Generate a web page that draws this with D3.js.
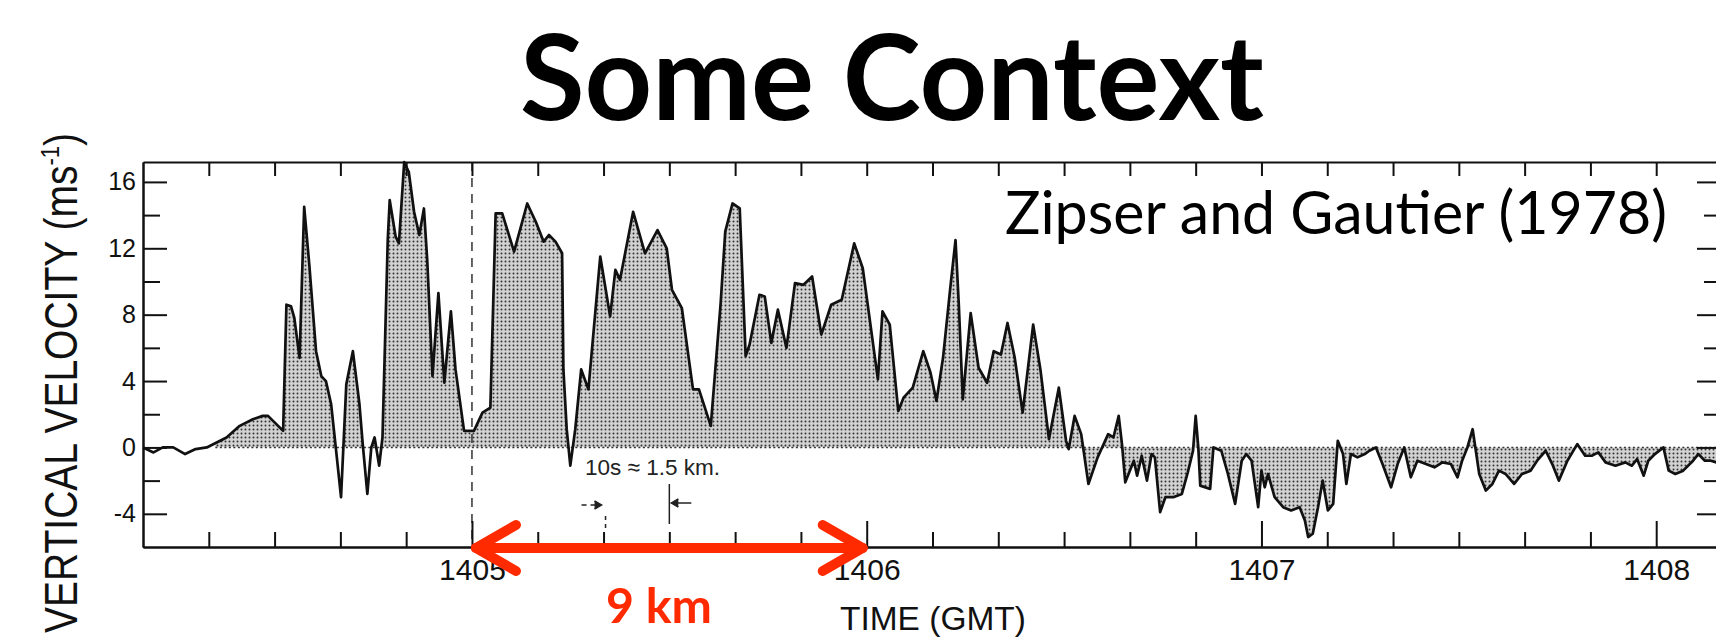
<!DOCTYPE html>
<html>
<head>
<meta charset="utf-8">
<title>Some Context</title>
<script src="https://d3js.org/d3.v7.min.js"></script>
<style>
  body { margin: 0; background: #fff; }
  svg { display: block; }
</style>
</head>
<body>
<script>
// trace: seconds after 14:04:00 and vertical velocity (m/s)
var times = [10.0, 11.6, 13.0, 14.6, 16.4, 18.0, 19.7, 22.7, 24.7, 26.7, 28.2, 29.0, 31.3, 31.8, 32.5, 33.0, 33.8,
  34.5, 35.3, 36.3, 37.1, 37.8, 38.6, 39.3, 40.1, 40.9, 41.9, 42.9, 43.4, 44.1, 44.7, 45.2, 45.9, 46.4, 47.2,
  47.5, 48.4, 48.9, 49.7, 50.4, 51.2, 52.0, 52.7, 53.2, 54.0, 54.9, 55.8, 56.8, 57.5, 58.8, 60.3, 61.6, 62.8,
  63.6, 64.6, 66.4, 68.4, 69.7, 70.9, 71.7, 72.7, 73.7, 73.9, 74.4, 74.95, 75.7, 76.6, 77.7, 79.5, 81.0, 81.8,
  82.5, 84.5, 86.3, 88.2, 89.6, 90.4, 91.9, 93.6, 94.5, 96.3, 97.8, 98.5, 99.6, 100.7, 101.6, 102.2, 103.7,
  104.5, 105.5, 106.5, 107.8, 109.1, 110.4, 111.7, 113.1, 114.6, 116.2, 118.1, 119.4, 121.7, 122.4, 123.5,
  124.8, 125.6, 127.0, 128.6, 129.7, 130.6, 131.6, 132.7, 133.5, 134.0, 134.6, 135.8, 137.0, 138.3, 139.3,
  140.4, 141.4, 142.5, 143.7, 145.3, 146.4, 147.7, 149.2, 150.3, 150.7, 151.6, 152.6, 153.7, 155.1, 156.7,
  157.5, 158.3, 158.8, 159.3, 160.6, 161.1, 161.8, 162.6, 163.3, 163.8, 164.6, 165.4, 166.6, 167.9, 168.8,
  169.6, 170.0, 170.4, 170.7, 172.2, 172.7, 173.9, 174.9, 176.0, 177.0, 177.7, 178.5, 179.5, 180.0, 180.5,
  181.0, 182.0, 183.3, 184.5, 185.8, 186.6, 187.1, 187.8, 188.6, 189.3, 190.1, 190.9, 191.6, 192.4, 192.9,
  193.6, 194.6, 195.7, 196.4, 197.4, 198.4, 199.7, 200.7, 201.7, 202.7, 203.7, 205.0, 206.3, 207.5, 208.8,
  209.8, 210.5, 211.3, 212.1, 213.1, 214.1, 215.1, 216.1, 217.1, 218.4, 219.6, 220.9, 221.9, 223.2, 224.2,
  225.2, 226.5, 228.0, 229.2, 230.2, 231.2, 232.3, 233.8, 235.3, 236.3, 237.1, 238.1, 238.8, 239.8, 241.1,
  241.9, 242.9, 244.1, 245.6, 246.4, 247.4, 248.3, 250.0];
var velocity = [0.0, -0.3, 0.0, 0.0, -0.4, -0.1, 0.0, 0.6, 1.3, 1.7, 1.9, 1.9, 1.0, 8.6, 8.5, 7.8, 5.4,
  14.5, 10.9, 5.8, 4.3, 4.0, 2.6, 0.0, -3.0, 3.8, 5.8, 2.6, 0.2, -2.8, 0.0, 0.6, -1.1, 0.6, 12.5,
  14.9, 12.7, 12.3, 17.2, 16.6, 14.2, 12.8, 14.4, 11.3, 4.3, 9.3, 3.9, 8.2, 4.7, 1.0, 1.0, 2.1, 2.4,
  14.1, 14.1, 11.8, 14.7, 13.6, 12.4, 12.8, 12.4, 11.7, 4.7, 1.1, -1.1, 1.1, 4.7, 3.5, 11.5, 7.9, 10.7,
  10.1, 14.2, 11.7, 13.1, 12.0, 9.5, 8.4, 3.5, 3.5, 1.3, 8.7, 13.0, 14.7, 14.4, 5.5, 6.2, 9.2,
  9.1, 6.3, 8.3, 6.0, 9.9, 9.8, 10.3, 6.8, 8.6, 8.9, 12.3, 10.8, 4.1, 8.2, 7.4,
  2.2, 3.0, 3.6, 5.8, 4.5, 2.8, 5.4, 9.6, 12.5, 8.6, 2.9, 8.1, 4.8, 3.9, 5.8,
  5.6, 7.5, 5.4, 2.1, 7.4, 4.7, 0.5, 3.6, 0.4, -0.1, 1.9, 0.8, -2.2, -0.6, 0.8,
  0.6, 1.9, 0.2, -2.1, -0.8, -1.7, -0.5, -2.0, -0.4, -0.6, -3.9, -3.0, -3.0, -2.8, -1.5,
  -0.2, 1.9, 0.0, -2.3, -2.5, 0.0, -0.2, -1.6, -3.4, -0.8, -0.4, -0.8, -3.6, -1.4, -2.4,
  -1.6, -3.0, -3.6, -3.8, -3.6, -4.4, -5.4, -5.2, -3.6, -2.0, -3.8, -3.4, 0.4, -0.4, -2.2,
  -0.4, -0.6, -0.4, -0.2, 0.0, -1.0, -2.4, -1.0, 0.0, -1.8, -0.8, -1.0, -1.2, -0.9, -1.0,
  -1.8, -0.8, 0.0, 1.1, -1.6, -2.6, -2.2, -1.4, -1.6, -2.2, -1.6, -1.4, -0.8, -0.2, -1.0,
  -2.0, -0.8, 0.2, -0.5, -0.5, -0.3, -0.9, -1.1, -0.9, -1.1, -0.7, -1.7, -0.8, -0.4, 0.0,
  -1.4, -1.6, -1.4, -0.8, -0.4, -0.8, -0.8, -1.0];

// axis ticks
var yMajor = [-4, 0, 4, 8, 12, 16],
  yMinor = [-2, 2, 6, 10, 14],
  minuteTicks = [60, 120, 180, 240],
  minuteLabels = ["1405", "1406", "1407", "1408"],
  tenSecTicks = d3.range(20, 250, 10);

var width = 1716, height = 641,
  red = "#ff2a00";

var svg = d3.select("body").append("svg")
  .attr("width", width)
  .attr("height", height);

var x = d3.scaleLinear().domain([10, 250]).range([143, 1722]),
  y = d3.scaleLinear().domain([-6, 17.2]).range([547, 162]);

var data = times.map(function(t, i) { return { t: t, v: velocity[i] }; });

// stipple pattern for the shaded areas
var defs = svg.append("defs");
var pat = defs.append("pattern")
  .attr("id", "stipple")
  .attr("patternUnits", "userSpaceOnUse")
  .attr("width", 4).attr("height", 4);
pat.append("rect").attr("width", 4).attr("height", 4).attr("fill", "#d2d2d2");
pat.append("circle").attr("cx", 1.5).attr("cy", 1.5).attr("r", 1).attr("fill", "#333");

// updrafts are shaded from 1404:21, downdrafts only after ~1406:30
defs.append("clipPath").attr("id", "clipUp")
  .append("rect")
  .attr("x", x(21)).attr("y", y(17.2))
  .attr("width", x(250) - x(21)).attr("height", y(0) - y(17.2));
defs.append("clipPath").attr("id", "clipDown")
  .append("rect")
  .attr("x", x(150)).attr("y", y(0))
  .attr("width", x(250) - x(150)).attr("height", y(-6) - y(0));

var area = d3.area()
  .x(function(d) { return x(d.t); })
  .y0(y(0))
  .y1(function(d) { return y(d.v); });

["clipUp", "clipDown"].forEach(function(id) {
  svg.append("path")
    .datum(data)
    .attr("clip-path", "url(#" + id + ")")
    .attr("fill", "url(#stipple)")
    .attr("d", area);
});

// dotted zero line
svg.append("line")
  .attr("x1", x(21)).attr("x2", x(250))
  .attr("y1", y(0)).attr("y2", y(0))
  .attr("stroke", "#333")
  .attr("stroke-width", 1.6)
  .attr("stroke-dasharray", "2,2.5");

// dashed marker at 1405
svg.append("line")
  .attr("x1", x(60)).attr("x2", x(60))
  .attr("y1", y(17.2)).attr("y2", y(-6))
  .attr("stroke", "#333")
  .attr("stroke-width", 1.5)
  .attr("stroke-dasharray", "9,7");

// the trace
var line = d3.line()
  .x(function(d) { return x(d.t); })
  .y(function(d) { return y(d.v); });

svg.append("path")
  .datum(data)
  .attr("fill", "none")
  .attr("stroke", "#111")
  .attr("stroke-width", 2.7)
  .attr("stroke-linejoin", "round")
  .attr("d", line);

// axes (ticks point inwards like the original)
function styleAxis(g) {
  g.selectAll("path, line").attr("stroke", "#111").attr("stroke-width", 2);
  g.selectAll("text").attr("fill", "#111").attr("font-family", "Liberation Sans, Arial, sans-serif");
}

svg.append("g")
  .attr("transform", "translate(" + x(10) + ",0)")
  .call(d3.axisLeft(y).tickValues(yMajor).tickSize(-24).tickSizeOuter(0).tickPadding(7)
    .tickFormat(function(d) { return d < 0 ? "-" + Math.abs(d) : d; }))
  .call(styleAxis)
  .call(function(g) { g.selectAll("text").attr("font-size", 25); });

svg.append("g")
  .attr("transform", "translate(" + x(10) + ",0)")
  .call(d3.axisLeft(y).tickValues(yMinor).tickSize(-17).tickSizeOuter(0).tickFormat(""))
  .call(styleAxis);

svg.append("g")
  .attr("transform", "translate(" + x(250) + ",0)")
  .call(d3.axisRight(y).tickValues(yMajor).tickSize(-25).tickSizeOuter(0).tickFormat(""))
  .call(styleAxis);

svg.append("g")
  .attr("transform", "translate(" + x(250) + ",0)")
  .call(d3.axisRight(y).tickValues(yMinor).tickSize(-18).tickSizeOuter(0).tickFormat(""))
  .call(styleAxis);

svg.append("g")
  .attr("transform", "translate(0," + y(17.2) + ")")
  .call(d3.axisTop(x).tickValues(tenSecTicks).tickSize(-14).tickSizeOuter(0).tickFormat(""))
  .call(styleAxis);

svg.append("g")
  .attr("transform", "translate(0," + y(-6) + ")")
  .call(d3.axisBottom(x).tickValues(tenSecTicks.filter(function(t) { return t % 60; }))
    .tickSize(-15).tickSizeOuter(0).tickFormat(""))
  .call(styleAxis);

svg.append("g")
  .attr("transform", "translate(0," + y(-6) + ")")
  .call(d3.axisBottom(x).tickValues(minuteTicks).tickSize(-26).tickSizeOuter(0).tickPadding(12)
    .tickFormat(function(d, i) { return minuteLabels[i]; }))
  .call(styleAxis)
  .call(function(g) { g.selectAll("text").attr("font-size", 30); });

// helper: scale the font so the text spans a given width
function fitWidth(sel, w) {
  var fs = parseFloat(sel.attr("font-size")),
    len = sel.node().getComputedTextLength();
  sel.attr("font-size", fs * w / len);
  return sel;
}

// axis titles
var yTitle = svg.append("text")
  .attr("transform", "translate(77,383) rotate(-90)")
  .attr("text-anchor", "middle")
  .attr("font-family", "Liberation Sans, Arial, sans-serif")
  .attr("font-size", 46)
  .attr("fill", "#111")
  .attr("textLength", 500)
  .attr("lengthAdjust", "spacingAndGlyphs");
yTitle.append("tspan").text("VERTICAL VELOCITY (ms");
yTitle.append("tspan").attr("font-size", 26).attr("dy", -18).text("-1");
yTitle.append("tspan").attr("dy", 18).text(")");

fitWidth(svg.append("text")
  .attr("x", 840).attr("y", 630)
  .attr("font-family", "Liberation Sans, Arial, sans-serif")
  .attr("font-size", 32)
  .attr("fill", "#111")
  .text("TIME (GMT)"), 186);

fitWidth(svg.append("text")
  .attr("x", 585).attr("y", 475)
  .attr("font-family", "Liberation Sans, Arial, sans-serif")
  .attr("font-size", 22)
  .attr("fill", "#222")
  .text("10s \u2248 1.5 km."), 135);

// 10 s scale marker
var mk = svg.append("g").attr("stroke", "#222").attr("stroke-width", 1.5).attr("fill", "none");
mk.append("line").attr("x1", x(80) - 22).attr("x2", x(80) - 4).attr("y1", 505).attr("y2", 505)
  .attr("stroke-dasharray", "5,4");
mk.append("path").attr("d", "M" + (x(80) - 9) + ",501L" + (x(80) - 2) + ",505L" + (x(80) - 9) + ",509")
  .attr("fill", "#222");
mk.append("line").attr("x1", x(80) + 2).attr("x2", x(80) + 2).attr("y1", 516).attr("y2", 532)
  .attr("stroke-dasharray", "4,4");
mk.append("line").attr("x1", x(90)).attr("x2", x(90)).attr("y1", 484).attr("y2", 524);
mk.append("line").attr("x1", x(90) + 2).attr("x2", x(90) + 22).attr("y1", 503).attr("y2", 503);
mk.append("path").attr("d", "M" + (x(90) + 9) + ",499L" + (x(90) + 2) + ",503L" + (x(90) + 9) + ",507")
  .attr("fill", "#222");

// red 1405-1406 arrow
var ay = 548, head = 44, spread = 23;
var arrow = svg.append("g")
  .attr("stroke", red).attr("stroke-width", 10)
  .attr("stroke-linecap", "round").attr("stroke-linejoin", "round").attr("fill", "none");
arrow.append("line").attr("x1", x(60) + 4).attr("x2", x(120) - 4).attr("y1", ay).attr("y2", ay);
arrow.append("path").attr("d", "M" + (x(60) + head) + "," + (ay - spread) + "L" + (x(60) + 4) + "," + ay +
  "L" + (x(60) + head) + "," + (ay + spread));
arrow.append("path").attr("d", "M" + (x(120) - head) + "," + (ay - spread) + "L" + (x(120) - 4) + "," + ay +
  "L" + (x(120) - head) + "," + (ay + spread));

fitWidth(svg.append("text")
  .attr("x", 606).attr("y", 623)
  .attr("font-family", "Lato, 'Open Sans', sans-serif")
  .attr("font-weight", 700)
  .attr("font-size", 46)
  .attr("fill", red)
  .text("9 km"), 106);

// slide title and citation
fitWidth(svg.append("text")
  .attr("x", 520).attr("y", 120)
  .attr("font-family", "Lato, 'Open Sans', sans-serif")
  .attr("font-weight", 700)
  .attr("font-size", 110)
  .attr("fill", "#000")
  .text("Some Context"), 744);

fitWidth(svg.append("text")
  .attr("x", 1005).attr("y", 234)
  .attr("font-family", "Lato, 'Open Sans', sans-serif")
  .attr("font-size", 54)
  .attr("fill", "#000")
  .text("Zipser and Gautier (1978)"), 662);
</script>
</body>
</html>
